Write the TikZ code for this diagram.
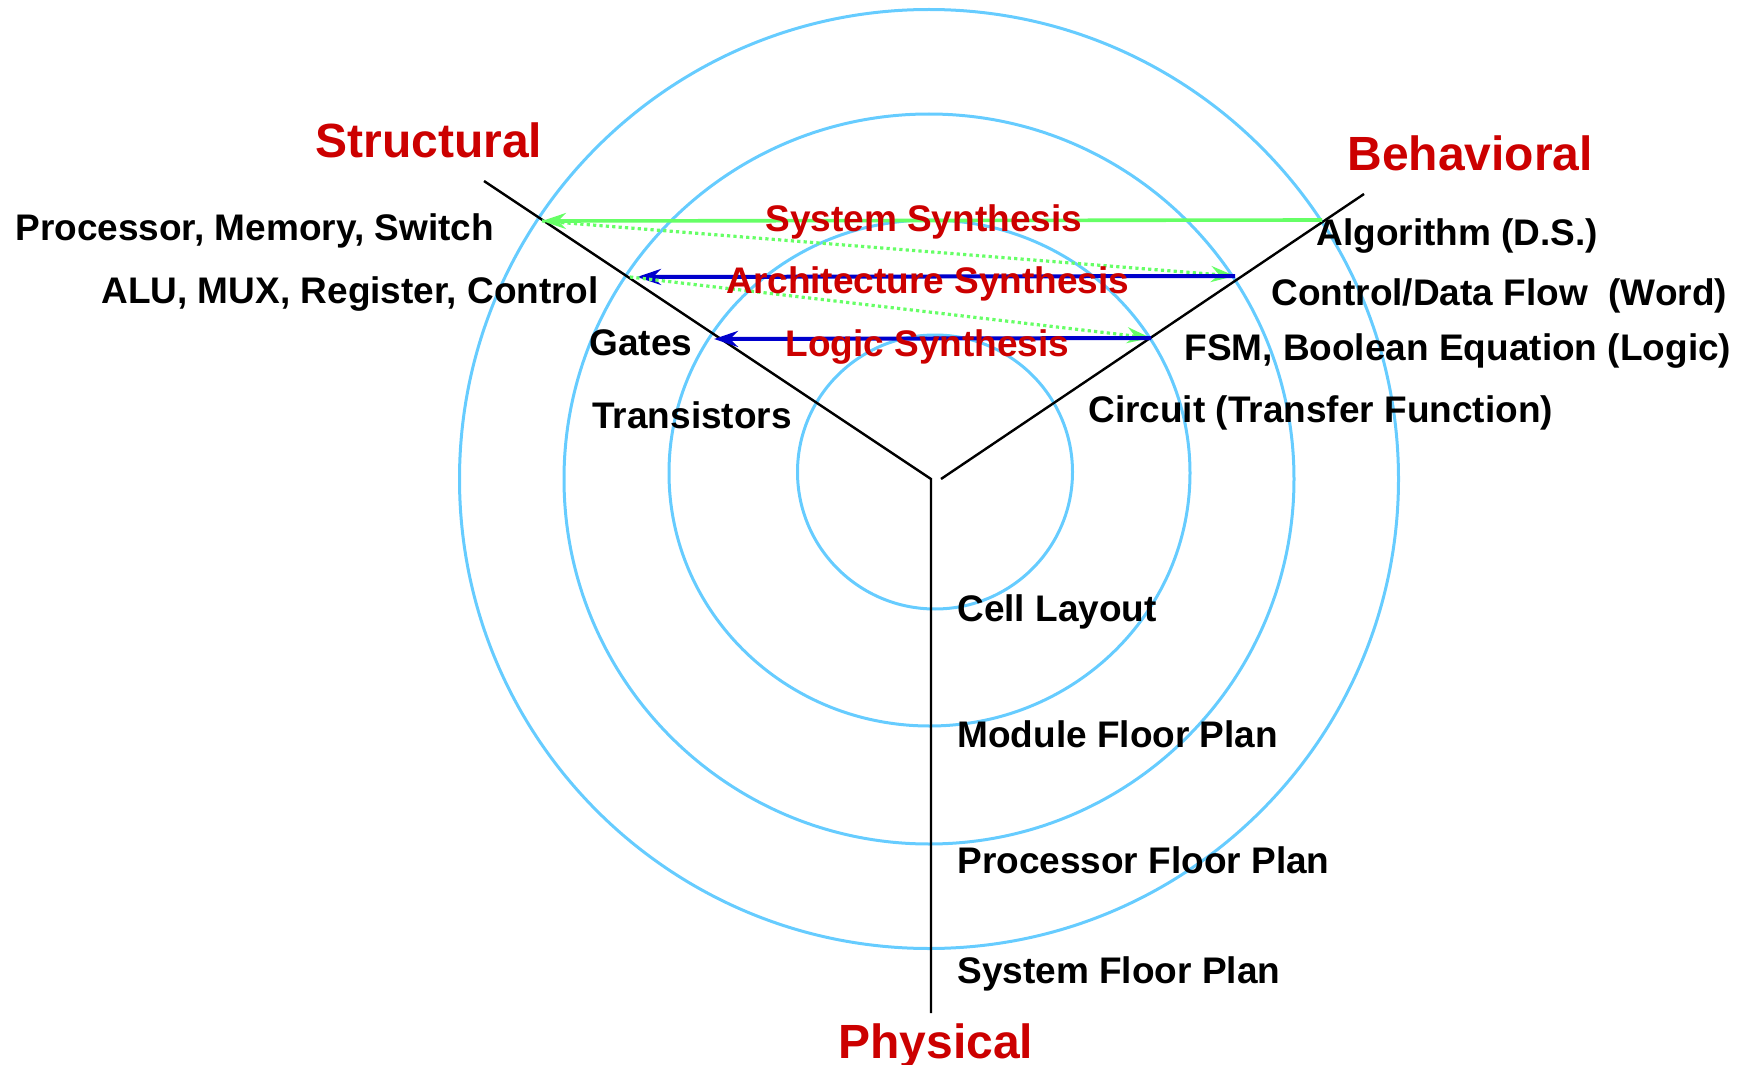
\documentclass[tikz,border=0pt]{standalone}
\usepackage{fontspec}
\setmainfont{Liberation Sans}
\usetikzlibrary{arrows.meta}
\definecolor{ringblue}{RGB}{102,204,255}
\definecolor{titlered}{RGB}{204,0,0}
\definecolor{synthgreen}{RGB}{102,255,102}
\definecolor{synthblue}{RGB}{0,0,204}
\tikzset{
  ring/.style={draw=ringblue, line width=1.5pt},
  axis/.style={draw=black, line width=1.2pt},
  title/.style={anchor=base west, inner sep=0pt, text=titlered,
    font=\fontsize{24}{28}\selectfont\bfseries},
  level/.style={anchor=base west, inner sep=0pt, text=black,
    font=\fontsize{18.5}{22}\selectfont\bfseries},
  synth/.style={anchor=base west, inner sep=0pt, text=titlered,
    font=\fontsize{18.5}{22}\selectfont\bfseries},
  tip/.style={-{Stealth[length=12pt, width=8pt, inset=4pt]}},
  downstep/.style={tip, draw=synthgreen, line width=1.6pt,
    dash pattern=on 1.6pt off 1.6pt},
  sysarrow/.style={tip, draw=synthgreen, line width=1.8pt},
  synarrow/.style={tip, draw=synthblue, line width=2pt}
}
\begin{document}
\begin{tikzpicture}[x=0.5pt, y=-0.5pt]
\useasboundingbox (0,0) rectangle (1753,1065);

% concentric abstraction levels
\draw[ring] (929,479) circle [radius=469.5];
\draw[ring] (929,479) circle [radius=365];
\draw[ring] (929.5,473) ellipse [x radius=260.5, y radius=253];
\draw[ring] (935,472) ellipse [x radius=137.5, y radius=137];

% the three domain axes
\coordinate (hub) at (931,479);
\coordinate (hubr) at (941,479);
\coordinate (structEnd) at (484,181);
\coordinate (behavEnd) at (1364,194);
\coordinate (physEnd) at (931,1013);
\draw[axis] (structEnd) -- (hub) -- (physEnd);
\draw[axis] (hubr) -- (behavEnd);

% crossing points of the axes with the rings
\coordinate (sOuter) at (542,221);
\coordinate (sSecond) at (630,277);
\coordinate (sSecondTip) at (637,277);
\coordinate (sThird) at (714,339);
\coordinate (bOuter) at (1322,220);
\coordinate (bSecond) at (1235,276);
\coordinate (bThird) at (1151,338);

% synthesis steps
\draw[sysarrow] (bOuter) -- (sOuter);
\draw[downstep] (sOuter) -- (bSecond);
\draw[synarrow] (bSecond) -- (sSecondTip);
\draw[downstep] (sSecond) -- (bThird);
\draw[synarrow] (bThird) -- (sThird);

% domain titles
\node[title] (tStruct) at (315,158) {Structural};
\node[title] (tBehav) at (1347,170) {Behavioral};
\node[title] (tPhys) at (838,1058) {Physical};

% structural domain
\node[level] (sProc) at (15,241) {Processor, Memory, Switch};
\node[level] (sAlu) at (101,303) {ALU, MUX, Register, Control};
\node[level] (sGates) at (589,355) {Gates};
\node[level] (sTrans) at (592,428) {Transistors};

% behavioral domain
\node[level] (bAlg) at (1316,245) {Algorithm (D.S.)};
\node[level] (bFlow) at (1271,306) {Control/Data Flow\ \ (Word)};
\node[level] (bFsm) at (1184,360) {FSM, Boolean Equation (Logic)};
\node[level] (bCirc) at (1088,422) {Circuit (Transfer Function)};

% physical domain
\node[level] (pCell) at (957,621) {Cell Layout};
\node[level] (pModule) at (957,747) {Module Floor Plan};
\node[level] (pProc) at (957,873) {Processor Floor Plan};
\node[level] (pSystem) at (957,983) {System Floor Plan};

% synthesis labels
\node[synth] (lSys) at (765,232) {System Synthesis};
\node[synth] (lArch) at (726,293) {Architecture Synthesis};
\node[synth] (lLogic) at (785,356) {Logic Synthesis};
\end{tikzpicture}
\end{document}
